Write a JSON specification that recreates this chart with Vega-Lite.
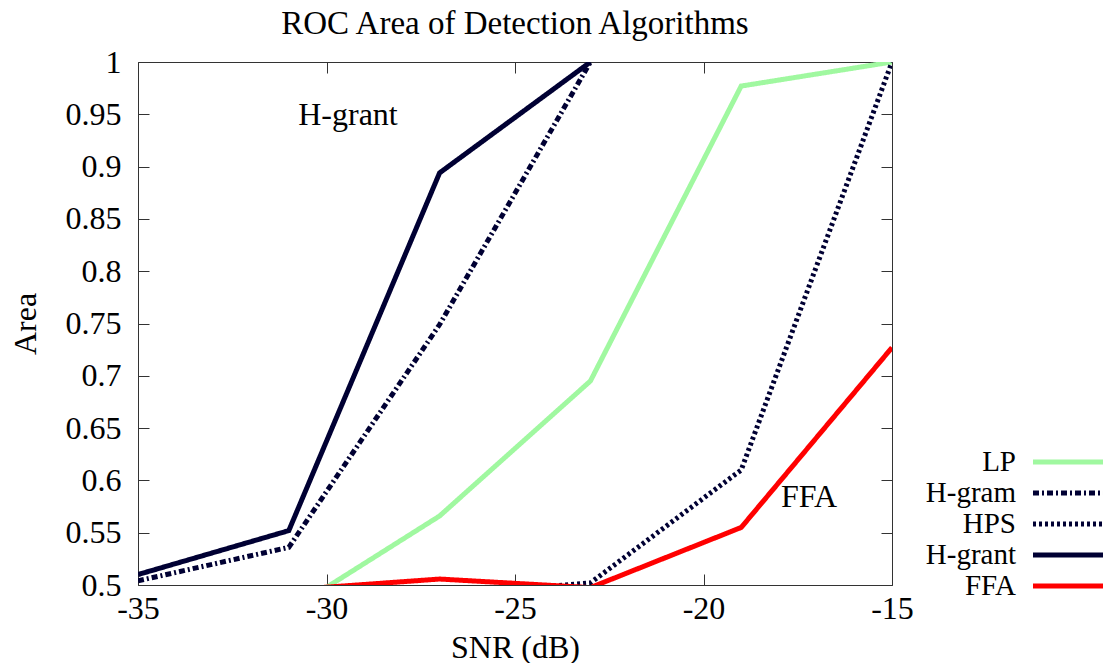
{
  "$schema": "https://vega.github.io/schema/vega-lite/v6.json",
  "width": 754,
  "height": 523,
  "autosize": "none",
  "padding": {"left": 138, "top": 62, "right": 211, "bottom": 78},
  "background": "white",
  "title": {"text": "ROC Area of Detection Algorithms", "fontSize": 33, "font": "Liberation Serif", "fontWeight": "normal", "color": "black", "offset": 5},
  "config": {
    "font": "Liberation Serif",
    "view": {"stroke": "#333333", "strokeWidth": 1},
    "axis": {
      "domain": false, "grid": false, "tickColor": "#333333", "tickSize": -11, "tickWidth": 1,
      "labelFont": "Liberation Serif", "labelFontSize": 32, "labelColor": "black",
      "titleFont": "Liberation Serif", "titleFontSize": 32, "titleFontWeight": "normal", "titleColor": "black",
      "labelFlush": false, "labelBound": false, "labelOverlap": false
    },
    "legend": {"rowPadding": 0}
  },
  "data": {"values": [
    {"series": "LP", "snr": -31, "area": 0.475},
    {"series": "LP", "snr": -27, "area": 0.566},
    {"series": "LP", "snr": -23, "area": 0.695},
    {"series": "LP", "snr": -19, "area": 0.977},
    {"series": "LP", "snr": -15, "area": 1.0},
    {"series": "H-gram", "snr": -35, "area": 0.504},
    {"series": "H-gram", "snr": -31, "area": 0.536},
    {"series": "H-gram", "snr": -27, "area": 0.749},
    {"series": "H-gram", "snr": -23, "area": 1.0},
    {"series": "HPS", "snr": -27, "area": 0.49},
    {"series": "HPS", "snr": -23, "area": 0.502},
    {"series": "HPS", "snr": -19, "area": 0.61},
    {"series": "HPS", "snr": -15, "area": 1.0},
    {"series": "H-grant", "snr": -35, "area": 0.51},
    {"series": "H-grant", "snr": -31, "area": 0.552},
    {"series": "H-grant", "snr": -27, "area": 0.894},
    {"series": "H-grant", "snr": -23, "area": 1.0},
    {"series": "FFA", "snr": -31, "area": 0.4953},
    {"series": "FFA", "snr": -27, "area": 0.5057},
    {"series": "FFA", "snr": -23, "area": 0.4975},
    {"series": "FFA", "snr": -19, "area": 0.555},
    {"series": "FFA", "snr": -15, "area": 0.727}
  ]},
  "layer": [
    {
      "mark": {"type": "line", "clip": true, "strokeWidth": 5, "strokeCap": "butt", "strokeJoin": "miter"},
      "encoding": {
        "x": {"field": "snr", "type": "quantitative", "scale": {"domain": [-35, -15], "nice": false, "zero": false},
              "axis": {"title": "SNR (dB)", "values": [-35, -30, -25, -20, -15], "labelExpr": "'' + datum.value", "labelPadding": 19, "titlePadding": 8}},
        "y": {"field": "area", "type": "quantitative", "scale": {"domain": [0.5, 1], "nice": false, "zero": false},
              "axis": {"title": "Area", "values": [0.5, 0.55, 0.6, 0.65, 0.7, 0.75, 0.8, 0.85, 0.9, 0.95, 1], "labelExpr": "format(datum.value, '~g')", "labelPadding": 28, "titlePadding": 23}},
        "color": {"field": "series", "type": "nominal",
                  "scale": {"domain": ["LP", "H-gram", "HPS", "H-grant", "FFA"], "range": ["#a0f8a0", "#000033", "#000033", "#000033", "#ff0000"]},
                  "legend": {"title": null, "orient": "none", "legendX": 914, "legendY": 384, "labelAlign": "right", "labelOffset": -68,
                             "symbolType": "M-2.593,0H2.593", "symbolSize": 729, "symbolStrokeWidth": 5, "labelFontSize": 29, "labelFont": "Liberation Serif",
                             "labelColor": "black", "rowPadding": 0, "padding": 0}},
        "strokeDash": {"field": "series", "type": "nominal",
                       "scale": {"domain": ["LP", "H-gram", "HPS", "H-grant", "FFA"], "range": [[1, 0], [6, 3, 2, 3], [3, 3], [1, 0], [1, 0]]},
                       "legend": {"title": null, "orient": "none", "legendX": 914, "legendY": 384, "labelAlign": "right", "labelOffset": -68,
                             "symbolType": "M-2.593,0H2.593", "symbolSize": 729, "symbolStrokeWidth": 5, "labelFontSize": 29, "labelFont": "Liberation Serif",
                             "labelColor": "black", "rowPadding": 0, "padding": 0}},
        "detail": {"field": "series"}
      }
    },
    {
      "mark": {"type": "line", "opacity": 0},
      "encoding": {
        "x": {"field": "snr", "type": "quantitative", "axis": {"orient": "top", "labels": false, "title": null, "values": [-35, -30, -25, -20, -15]}},
        "y": {"field": "area", "type": "quantitative", "axis": {"orient": "right", "labels": false, "title": null, "values": [0.5, 0.55, 0.6, 0.65, 0.7, 0.75, 0.8, 0.85, 0.9, 0.95, 1]}},
        "detail": {"field": "series"}
      }
    },
    {
      "data": {"values": [
        {"label": "H-grant", "snr": -29.43, "area": 0.949},
        {"label": "FFA", "snr": -17.2, "area": 0.584}
      ]},
      "mark": {"type": "text", "fontSize": 32, "font": "Liberation Serif", "color": "black", "baseline": "middle", "align": "center"},
      "encoding": {
        "x": {"field": "snr", "type": "quantitative", "axis": null},
        "y": {"field": "area", "type": "quantitative", "axis": null},
        "text": {"field": "label"}
      }
    }
  ],
  "resolve": {"axis": {"x": "independent", "y": "independent"}}
}
